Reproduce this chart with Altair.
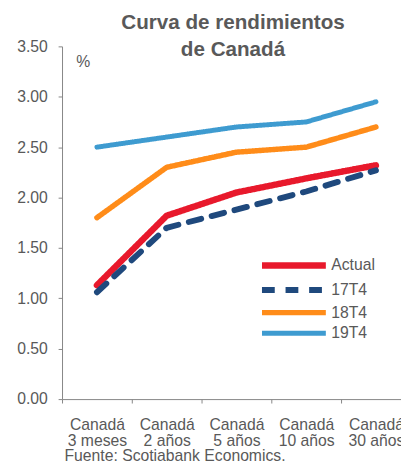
import altair as alt
import pandas as pd

categories = ["Canadá 3 meses", "Canadá 2 años", "Canadá 5 años", "Canadá 10 años", "Canadá 30 años"]
series_names = ["Actual", "17T4", "18T4", "19T4"]
actual = [1.13, 1.82, 2.05, 2.19, 2.32]
t17 = [1.06, 1.70, 1.88, 2.06, 2.27]
t18 = [1.80, 2.30, 2.45, 2.50, 2.70]
t19 = [2.50, 2.60, 2.70, 2.75, 2.95]
colors = ["#E8192C", "#1F497D", "#FF8C19", "#3E9BD0"]
widths = [6.5, 5, 4.5, 4.5]
dashes = [[1, 0], [13, 11], [1, 0], [1, 0]]
y_ticks = [0, 0.5, 1.0, 1.5, 2.0, 2.5, 3.0, 3.5]

rows = []
for name, vals in zip(series_names, [actual, t17, t18, t19]):
    for c, v in zip(categories, vals):
        rows.append({"plazo": c, "serie": name, "valor": v})
df = pd.DataFrame(rows)

FONT = "Liberation Sans"
GRAY = "#595959"
AXIS = "#868686"

chart = alt.Chart(df).mark_line(strokeCap="round", strokeJoin="round").encode(
    x=alt.X("plazo:N", sort=categories,
            scale=alt.Scale(range=[0, 355], paddingInner=0, paddingOuter=0),
            axis=alt.Axis(title="Fuente: Scotiabank Economics.", titleX=2, titleY=62,
                          titleAlign="left", titleAnchor="start", titleBaseline="alphabetic",
                          titleFontWeight="normal", titleFontSize=16, titleColor=GRAY, titleFont=FONT,
                          labelExpr="[substring(datum.label, 0, indexof(datum.label, ' ')), substring(datum.label, indexof(datum.label, ' ') + 1)]",
                          labelAngle=0, labelFontSize=16, labelColor=GRAY, labelFont=FONT,
                          labelLineHeight=16.5, labelPadding=14, tickBand="extent",
                          tickSize=4, tickColor=AXIS, domainColor=AXIS, grid=False)),
    y=alt.Y("valor:Q", scale=alt.Scale(domain=[0, 3.5], nice=False),
            axis=alt.Axis(values=y_ticks, format=".2f", title="%", titleAngle=0, titleX=14, titleY=15,
                          titleAlign="left", titleBaseline="middle", titleFontWeight="normal",
                          titleFontSize=16, titleColor=GRAY, titleFont=FONT,
                          labelFontSize=16, labelColor=GRAY, labelFont=FONT, labelPadding=11,
                          tickSize=4, tickColor=AXIS, domainColor=AXIS, grid=False)),
    color=alt.Color("serie:N", sort=series_names,
                    scale=alt.Scale(domain=series_names, range=colors),
                    legend=alt.Legend(title=None, orient="none", legendX=228, legendY=215,
                                      symbolType="M-8,0H8", symbolSize=66, symbolStrokeWidth=5,
                                      labelFontSize=16, labelColor=GRAY, labelFont=FONT,
                                      labelOffset=30, padding=0, rowPadding=0)),
    strokeDash=alt.StrokeDash("serie:N", sort=series_names,
                              scale=alt.Scale(domain=series_names, range=dashes)),
    strokeWidth=alt.StrokeWidth("serie:N", scale=alt.Scale(domain=series_names, range=widths),
                                legend=None),
    order=alt.Order("serie:N"),
).properties(
    width=345, height=359,
    autosize=alt.AutoSizeParams(type="none"),
    padding={"left": 55, "top": 35, "right": 0, "bottom": 62},
    title=alt.TitleParams(text=["Curva de rendimientos", "de Canadá"], anchor="middle",
                          fontSize=21, font=FONT, fontWeight="bold", color=GRAY,
                          lineHeight=28, baseline="top", offset=0, dy=22, dx=1.5),
).configure_view(stroke=None)

chart.save("out.html", embed_options={"renderer": "svg", "actions": False})
